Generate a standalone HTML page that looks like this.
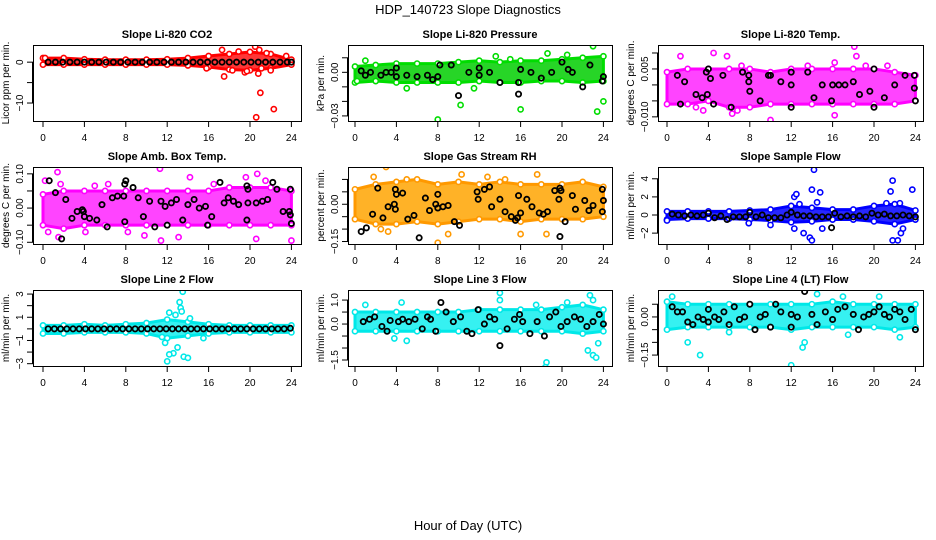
<!DOCTYPE html>
<html><head><meta charset="utf-8">
<style>
html,body{margin:0;padding:0;background:#fff;}
svg{display:block;font-family:"Liberation Sans",sans-serif;}
</style></head>
<body>
<svg id="chart" width="936" height="540" viewBox="0 0 936 540">
<text x="468" y="14" text-anchor="middle" font-size="13">HDP_140723  Slope Diagnostics</text>
<text x="468" y="530" text-anchor="middle" font-size="13">Hour of Day (UTC)</text>
</svg>
<script>
// ---- data ----
const xTicks = [0,4,8,12,16,20,24];
const envHours = [0,2,4,6,8,10,12,14,16,18,20,22,24];

const co2Lo = [-0.6,-0.6,-0.6,-0.6,-0.6,-0.6,-0.6,-0.8,-1.2,-1.8,-2,-1.5,-0.6];
const co2Hi = [1,1,0.7,0.6,0.6,0.6,0.7,1,1.5,2,2.5,2,0.6];
const co2Out = [[0.2,1],[17.3,3],[17.5,-3.5],[18.3,-2],[19.5,-2.5],[20.5,3.8],[20.6,-13.5],[20.8,-2.8],[21,-7.5],[21.1,-1.5],[22.3,-11.5],[22,-2],[19.7,-2.2],[15.8,-1.5],[23.5,1.5],[20.9,3],[21.6,2.2],[18.9,2.6]];
const co2Black = [[0.5,0],[1.2,0],[1.9,0],[2.6,0],[3.3,0],[4,0],[4.7,0],[5.4,0],[6.1,0],[6.8,0],[7.5,0],[8.2,0],[8.9,0],[9.6,0],[10.3,0],[11,0],[11.7,0],[12.4,0],[13.1,0],[13.8,0],[14.5,0],[15.2,0],[15.9,0],[16.6,0],[17.3,0],[18,0],[18.7,0],[19.4,0],[20.1,0],[20.8,0],[21.5,0],[22.2,0],[22.9,0],[23.6,0],[24,0]];
const co2Ticks = [-10,-5,0];
const co2Labels = [-10,0];

const presLo = [-0.007,-0.006,-0.007,-0.007,-0.007,-0.007,-0.006,-0.007,-0.007,-0.006,-0.006,-0.007,-0.006];
const presHi = [0.004,0.005,0.006,0.006,0.006,0.007,0.008,0.007,0.008,0.008,0.009,0.010,0.011];
const presOut = [[8,-0.0325],[10.2,-0.0225],[16,-0.0255],[23.4,-0.027],[24,-0.02],[23,0.018],[18.6,0.013],[5,-0.011],[0.2,-0.006],[1,0.008],[13.6,0.011],[15,0.009],[20.5,0.012],[11.5,-0.011]];
const presBlack = [[0.6,0.001],[1,-0.002],[1.5,0],[2.5,-0.002],[3,0],[3.5,0],[4,-0.003],[4,0.003],[5,-0.002],[6,-0.003],[7,-0.002],[7.5,-0.005],[8,-0.003],[8.2,0.005],[9.3,0.005],[10,-0.016],[11,0],[12,0.003],[12,-0.002],[13,0],[14,-0.007],[15.8,-0.007],[15.8,-0.015],[16,0.002],[17,0],[18,-0.004],[19,0],[20,0.007],[20.6,0.002],[21,0],[22,-0.01],[22.7,0.005],[23.9,-0.006],[24,-0.003]];
const presTicks = [-0.03,-0.02,-0.01,0.00,0.01];
const presLabels = [-0.03,0.00];

const tempLo = [-0.006,-0.006,-0.005,-0.007,-0.007,-0.006,-0.006,-0.006,-0.006,-0.006,-0.006,-0.006,-0.005];
const tempHi = [0.004,0.005,0.005,0.005,0.005,0.004,0.005,0.005,0.005,0.005,0.005,0.004,0.003];
const tempOut = [[1.3,0.009],[4.5,0.010],[5.8,0.009],[7.2,0.006],[10,-0.011],[13.6,0.006],[16.2,0.007],[18.1,0.012],[18.3,0.009],[16.2,-0.0095],[6.3,-0.009],[2.8,-0.007],[6.8,-0.008],[21.3,0.006],[19.2,0.006],[3.5,-0.008]];
const tempBlack = [[1,0.003],[1.3,-0.006],[1.7,0.001],[2.8,-0.003],[3.4,-0.004],[3.8,0.004],[4,0.005],[4.2,0.002],[3.9,-0.003],[4.5,-0.006],[5.4,0.003],[6.2,-0.007],[7.3,0.004],[7.9,0.001],[7.9,0.003],[8,-0.002],[9,-0.005],[9.8,0.003],[10,0.003],[11,0.001],[12,0],[12,-0.007],[12,0.004],[13.6,0.004],[14.2,-0.004],[15,0],[15.9,-0.005],[16,0],[16.6,0],[17.2,0],[18,0.001],[18.6,-0.003],[19.6,-0.002],[20,0.005],[20,-0.007],[21,-0.004],[22,0],[23,0.003],[23.9,0.003],[24,-0.005],[23.9,-0.001]];
const tempTicks = [-0.010,-0.005,0.000,0.005,0.010];
const tempLabels = [-0.010,0.005];

const ambLo = [-0.05,-0.06,-0.05,-0.05,-0.05,-0.05,-0.05,-0.05,-0.05,-0.05,-0.05,-0.05,-0.05];
const ambHi = [0.04,0.05,0.05,0.05,0.05,0.05,0.05,0.05,0.05,0.06,0.06,0.06,0.05];
const ambOut = [[0.2,0.08],[0.5,-0.07],[1.4,0.105],[1.5,-0.085],[1.7,0.07],[4.1,-0.07],[8.2,-0.07],[9.8,-0.08],[11.3,0.115],[11.4,-0.095],[13.1,-0.085],[14.2,0.09],[19.6,0.09],[20.7,0.1],[20.6,-0.09],[24,-0.095],[5,0.065],[16.5,0.07],[6.3,0.07],[21.5,0.08]];
const ambBlack = [[0.6,0.08],[1.2,0.045],[1.8,-0.09],[2.2,0.025],[2.8,-0.03],[3.3,-0.01],[3.8,-0.005],[3.9,-0.01],[4,-0.025],[4.5,-0.03],[5.2,-0.035],[5.7,0.01],[6.2,-0.055],[6.7,0.03],[7.2,0.035],[7.8,0.035],[7.9,0.07],[8,0.08],[7.9,-0.04],[8.7,0.06],[9.2,0.03],[9.7,-0.025],[10.3,0.02],[10.8,-0.055],[11.4,0.02],[11.8,0.005],[12,-0.05],[12.4,0.015],[12.9,0.025],[13.5,-0.035],[14,0.01],[14.6,0.025],[15.1,0],[15.7,0.005],[15.9,-0.05],[16.3,-0.025],[17.1,0.075],[17.5,0.015],[17.9,0.03],[18.4,0.02],[18.9,0.01],[19.7,0.065],[19.8,0.055],[19.8,0.015],[19.7,-0.035],[20.6,0.015],[21.2,0.02],[21.7,0.025],[22.2,0.075],[22.6,0.055],[23.2,-0.01],[23.8,-0.01],[23.9,-0.02],[24,-0.045],[23.9,0.055]];
const ambTicks = [-0.10,-0.05,0.00,0.05,0.10];
const ambLabels = [-0.10,0.00,0.10];

const rhLo = [-0.06,-0.08,-0.08,-0.07,-0.08,-0.07,-0.06,-0.06,-0.07,-0.06,-0.06,-0.06,-0.05];
const rhHi = [0.06,0.08,0.09,0.1,0.08,0.09,0.08,0.09,0.08,0.08,0.08,0.09,0.07];
const rhOut = [[3,0.15],[1.8,0.11],[8,-0.155],[9,-0.12],[16,-0.12],[17.6,0.12],[18.5,-0.12],[10.3,0.12],[5,0.1],[2.5,-0.1],[3.2,-0.11],[12.8,0.11],[14.5,0.1]];
const rhBlack = [[0.6,-0.11],[1.1,-0.095],[1.7,-0.04],[2.2,0.065],[2.7,-0.055],[3.2,-0.01],[3.8,0],[3.9,0.06],[4,0.04],[3.9,-0.02],[4.6,0.045],[5.1,-0.06],[5.7,-0.045],[6.2,-0.135],[6.8,0.025],[7.2,-0.025],[7.8,0],[8,0.04],[8,-0.015],[8.5,-0.01],[9,-0.005],[9.6,-0.07],[10.1,-0.085],[11.9,0.02],[11.8,0.05],[12.5,0.06],[13,0.07],[13.2,-0.01],[14,0.02],[14.5,-0.03],[15.1,-0.05],[15.5,-0.065],[15.7,-0.055],[16,-0.035],[15.8,0.035],[16.6,0.02],[17.1,-0.01],[17.8,-0.035],[18.2,-0.04],[18.6,-0.03],[19.3,0.055],[19.8,0.065],[19.9,0.055],[19.8,-0.13],[19.7,0.02],[20.3,-0.07],[21,0.035],[21.3,-0.02],[22.2,0.015],[22.6,-0.025],[23,-0.005],[23.9,0.06],[24,0.015],[23.9,-0.03]];
const rhTicks = [-0.15,-0.10,-0.05,0.00,0.05,0.10];
const rhLabels = [-0.15,0.00];

const sfLo = [-0.5,-0.4,-0.4,-0.4,-0.5,-0.6,-0.8,-0.7,-0.5,-0.5,-0.7,-1,-0.5];
const sfHi = [0.4,0.4,0.4,0.4,0.5,0.6,1,0.8,0.6,0.6,1,1.2,0.5];
const sfOut = [[12.3,2],[12.5,2.3],[14,2.8],[14.8,2.5],[13.8,-2.5],[14,-2.8],[14.2,5],[21.8,3.8],[21.6,2.6],[23.7,2.8],[21.8,-2.8],[22.3,-2.8],[22.6,-2],[12.3,-1.5],[13.2,-2],[15,-1.5],[21.2,1.3],[22.5,1.3],[12.8,1.2],[14.5,1.4],[22.8,-1.5],[0,-0.6],[7.9,-0.9],[10,-1.1]];
const sfBlack = [[0.5,0.1],[1.1,0],[1.7,-0.1],[2.3,0],[2.9,-0.1],[3.5,0],[4,0.2],[4.6,-0.3],[5.2,-0.1],[5.8,-0.5],[6.4,-0.2],[7,-0.2],[7.6,-0.2],[8,0.3],[8.6,-0.2],[9.2,0],[9.8,-0.3],[10.4,-0.3],[11,-0.3],[11.6,0],[12,0.3],[12.6,0],[13.2,-0.1],[13.8,-0.1],[14.4,-0.2],[15,-0.2],[15.6,-0.2],[15.9,-1.4],[16.2,0.2],[16.8,-0.2],[17.4,-0.1],[18,-0.2],[18.6,-0.1],[19.2,-0.2],[19.8,0.2],[20.4,0],[21,0.1],[21.6,-0.1],[22.2,-0.1],[22.8,0],[23.4,-0.1],[24,-0.2]];
const sfTicks = [-2,0,2,4];
const sfLabels = [-2,0,2,4];

const l2Lo = [-0.4,-0.4,-0.3,-0.3,-0.3,-0.4,-0.8,-0.6,-0.4,-0.3,-0.3,-0.3,-0.3];
const l2Hi = [0.3,0.3,0.4,0.3,0.4,0.5,0.8,0.6,0.4,0.3,0.3,0.3,0.3];
const l2Out = [[13.5,3.2],[13.2,2.3],[13.3,1.8],[12.2,1.4],[11.8,-1.2],[12,-2.8],[12.6,-2.1],[12.2,-2.2],[13.6,-2.4],[14,-2.5],[13,-1.6],[15.5,-0.8],[14.2,0.9],[12.8,1.2],[13.4,1.5],[11.5,-0.7]];
const l2Black = [[0.5,0],[1.1,0],[1.7,0],[2.3,0],[2.9,0],[3.5,0],[4.1,0],[4.7,0],[5.3,0],[5.9,0],[6.5,0],[7.1,0],[7.7,0],[8.3,0],[8.9,0],[9.5,0],[10.1,0],[10.7,0],[11.3,0],[11.9,0],[12.5,0],[13.1,0],[13.7,0],[14.3,0],[14.9,0],[15.5,0],[16.1,0],[16.7,0],[17.3,0],[17.9,0],[18.5,0],[19.1,0],[19.7,0],[20.3,0],[20.9,0],[21.5,0],[22.1,0],[22.7,0],[23.3,0],[23.9,0.05]];
const l2Ticks = [-3,-2,-1,0,1,2,3];
const l2Labels = [-3,-1,1,3];

const l3Lo = [-0.3,-0.3,-0.3,-0.3,-0.3,-0.3,-0.3,-0.3,-0.3,-0.3,-0.3,-0.4,-0.3];
const l3Hi = [0.5,0.5,0.5,0.5,0.5,0.5,0.6,0.6,0.6,0.6,0.7,0.8,0.6];
const l3Out = [[14,1.3],[14,1.0],[18.5,-1.6],[18.4,-1.8],[22.5,-1.1],[23,-1.3],[23.3,-1.4],[1,0.8],[3.8,-0.6],[5,-0.7],[22.7,1.2],[23,1.0],[4.5,0.9],[17.5,0.8],[20.5,0.9],[23.5,-0.8]];
const l3Black = [[0.8,0.1],[1.4,0.2],[1.9,0.3],[2.6,-0.1],[3.1,-0.3],[3.4,0.15],[4.2,0.1],[4.6,0.2],[5.2,0.1],[5.8,0.2],[6.5,-0.2],[7,0.3],[7.3,0.2],[7.8,-0.3],[8.3,0.9],[8.8,0.5],[9.5,0.1],[10.2,0.3],[10.8,-0.3],[11.3,-0.4],[11.9,0.6],[12.5,0],[13,0.3],[13.5,0.2],[14,-0.9],[14.7,-0.2],[15.4,0.2],[15.9,0.4],[16.2,0.1],[16.9,-0.4],[17.6,0.1],[18.3,-0.5],[18.8,0.3],[19.4,0.5],[19.9,-0.1],[20.5,0.1],[21.2,0.3],[21.8,0.2],[22.4,-0.1],[23,0.1],[23.6,0.4],[24,0]];
const l3Ticks = [-1.5,-1.0,-0.5,0.0,0.5,1.0];
const l3Labels = [-1.5,0.0,1.0];

const l4Lo = [-0.05,-0.04,-0.04,-0.04,-0.04,-0.04,-0.05,-0.04,-0.04,-0.04,-0.04,-0.05,-0.04];
const l4Hi = [0.06,0.05,0.05,0.05,0.05,0.05,0.05,0.05,0.06,0.05,0.05,0.05,0.05];
const l4Out = [[12,-0.19],[13.3,-0.1],[13.1,-0.12],[3.2,-0.15],[2,-0.1],[17.5,-0.07],[0.5,0.08],[14.5,0.09],[17,0.08],[20.5,0.08],[22.5,-0.08],[6,-0.06]];
const l4Black = [[0.5,0.04],[1,0.02],[1.5,0.02],[2,-0.02],[2.5,-0.03],[3,0],[3.5,-0.01],[4,0.03],[4,-0.02],[4.6,0],[5,-0.01],[5.5,0.02],[6,-0.03],[6.5,0.04],[7,-0.01],[7.5,0],[8,0.05],[8.5,-0.05],[9,0],[9.5,0.01],[10,-0.04],[10.5,0.05],[11,0.02],[12,0.01],[12,-0.04],[12.6,0],[13.3,0.1],[14,0.01],[14.5,-0.03],[15.3,0.02],[16,-0.01],[16.5,0.03],[17.2,0.04],[18,0.01],[18.5,-0.05],[19,0],[19.5,0.01],[20,0.02],[20.5,0.04],[21,0.01],[21.5,0],[22,0.03],[22.5,0.02],[23,-0.01],[23.6,0.03],[24,-0.05]];
const l4Ticks = [-0.15,-0.10,-0.05,0.00,0.05];
const l4Labels = [-0.15,0.00];

// ---- layout config (not data) ----
const colX0 = [43,355,667], colBox = [[33,301],[348,612],[658,923]];
const rowBox = [[45,121],[167,244],[290,366]];
const pxPerH = 10.35;
const panels = [
 {r:0,c:0,title:'Slope Li-820 CO2',ylab:'Licor ppm per min.',ymin:-14.4,ymax:4.2,lo:co2Lo,hi:co2Hi,out:co2Out,blk:co2Black,ticks:co2Ticks,labels:co2Labels,dec:0,col:'#ff0000',fill:'#ff2020',name:'co2'},
 {r:0,c:1,title:'Slope Li-820 Pressure',ylab:'kPa per min.',ymin:-0.0335,ymax:0.0188,lo:presLo,hi:presHi,out:presOut,blk:presBlack,ticks:presTicks,labels:presLabels,dec:2,col:'#00dd00',fill:'#10d010',name:'pressure'},
 {r:0,c:2,title:'Slope Li-820 Temp.',ylab:'degrees C per min.',ymin:-0.0113,ymax:0.0125,lo:tempLo,hi:tempHi,out:tempOut,blk:tempBlack,ticks:tempTicks,labels:tempLabels,dec:3,col:'#ff00ff',fill:'#ff30ff',name:'li820-temp'},
 {r:1,c:0,title:'Slope Amb. Box Temp.',ylab:'degrees C per min.',ymin:-0.105,ymax:0.12,lo:ambLo,hi:ambHi,out:ambOut,blk:ambBlack,ticks:ambTicks,labels:ambLabels,dec:2,col:'#ff00ff',fill:'#ff30ff',name:'amb-box-temp'},
 {r:1,c:1,title:'Slope Gas Stream RH',ylab:'percent per min.',ymin:-0.16,ymax:0.15,lo:rhLo,hi:rhHi,out:rhOut,blk:rhBlack,ticks:rhTicks,labels:rhLabels,dec:2,col:'#ff9900',fill:'#ffaa10',name:'gas-stream-rh'},
 {r:1,c:2,title:'Slope Sample Flow',ylab:'ml/min per min.',ymin:-3.2,ymax:5.3,lo:sfLo,hi:sfHi,out:sfOut,blk:sfBlack,ticks:sfTicks,labels:sfLabels,dec:0,col:'#0000ff',fill:'#1010ff',name:'sample-flow'},
 {r:2,c:0,title:'Slope Line 2 Flow',ylab:'ml/min per min.',ymin:-3.2,ymax:3.35,lo:l2Lo,hi:l2Hi,out:l2Out,blk:l2Black,ticks:l2Ticks,labels:l2Labels,dec:0,col:'#00e8e8',fill:'#20f0f0',name:'line2-flow'},
 {r:2,c:1,title:'Slope Line 3 Flow',ylab:'ml/min per min.',ymin:-1.75,ymax:1.42,lo:l3Lo,hi:l3Hi,out:l3Out,blk:l3Black,ticks:l3Ticks,labels:l3Labels,dec:1,col:'#00e8e8',fill:'#20f0f0',name:'line3-flow'},
 {r:2,c:2,title:'Slope Line 4 (LT) Flow',ylab:'ml/min per min.',ymin:-0.193,ymax:0.106,lo:l4Lo,hi:l4Hi,out:l4Out,blk:l4Black,ticks:l4Ticks,labels:l4Labels,dec:2,col:'#00e8e8',fill:'#20f0f0',name:'line4-flow'}
];
const NS='http://www.w3.org/2000/svg';
const svg=document.getElementById('chart');
function mk(tag,parent,attrs){const e=document.createElementNS(NS,tag);for(const k in attrs)e.setAttribute(k,attrs[k]);parent.appendChild(e);return e;}
panels.forEach(p=>{
  const [bx0,bx1]=colBox[p.c],[by0,by1]=rowBox[p.r];
  const xs=h=>colX0[p.c]+h*pxPerH;
  const ys=v=>by1-(v-p.ymin)/(p.ymax-p.ymin)*(by1-by0);
  const g=mk('g',svg,{});
  
  
  const cid='clip'+p.name;
  const cp=mk('clipPath',g,{id:cid});mk('rect',cp,{x:bx0,y:by0,width:bx1-bx0,height:by1-by0});
  const t=mk('text',g,{x:(bx0+bx1)/2,y:by0-7,'text-anchor':'middle','font-size':11,'font-weight':'bold'});t.textContent=p.title;
  
  
  const dg=mk('g',g,{'clip-path':'url(#'+cid+')'});
  let pts=envHours.map((h,i)=>xs(h)+','+ys(p.hi[i]));
  pts=pts.concat(envHours.map((h,i)=>xs(h)+','+ys(p.lo[i])).reverse());
  const band=mk('polygon',dg,{points:pts.join(' '),fill:p.fill,'fill-opacity':0.9,stroke:p.col,'stroke-width':3,'stroke-linejoin':'round'});
  
  
  envHours.forEach((h,i)=>{
    [p.lo[i],p.hi[i]].forEach(v=>{
      const c=mk('circle',dg,{cx:xs(h),cy:ys(v),r:2.6,fill:'#fff',stroke:p.col,'stroke-width':1.6});
      
      
    });
  });
  p.out.forEach(d=>{
    const c=mk('circle',dg,{cx:xs(d[0]),cy:ys(d[1]),r:2.6,fill:'#fff',stroke:p.col,'stroke-width':1.6});
    
    
  });
  p.blk.forEach(d=>{
    const c=mk('circle',dg,{cx:xs(d[0]),cy:ys(d[1]),r:2.6,fill:'none',stroke:'#000','stroke-width':1.8});
    
    
  });
  const box=mk('rect',g,{x:bx0+0.5,y:by0+0.5,width:bx1-bx0,height:by1-by0,fill:'none',stroke:'#000','stroke-width':1});
  
  
  mk('line',g,{x1:xs(0),x2:xs(24),y1:by1+0.5,y2:by1+0.5,stroke:'#000'});
  xTicks.forEach(h=>{
    mk('line',g,{x1:xs(h),x2:xs(h),y1:by1,y2:by1+6,stroke:'#000'});
    const tl=mk('text',g,{x:xs(h),y:by1+20,'text-anchor':'middle','font-size':10});tl.textContent=h;
    
    
  });
  const yl=p.ticks.map(ys);
  mk('line',g,{x1:bx0-0.5,x2:bx0-0.5,y1:Math.min(...yl),y2:Math.max(...yl),stroke:'#000'});
  p.ticks.forEach(v=>{
    const y=ys(v);
    mk('line',g,{x1:bx0-6,x2:bx0,y1:y,y2:y,stroke:'#000'});
  });
  p.labels.forEach(v=>{
    const y=ys(v);
    const tl=mk('text',g,{x:bx0-10,y:y,'text-anchor':'middle','font-size':10,transform:'rotate(-90 '+(bx0-10)+' '+y+')'});
    tl.textContent=(v<0?'\u2212':'')+Math.abs(v).toFixed(p.dec);
    
    
  });
  const ym=(by0+by1)/2;
  const yt=mk('text',g,{x:bx0-24,y:ym,'text-anchor':'middle','font-size':10,transform:'rotate(-90 '+(bx0-24)+' '+ym+')'});
  yt.textContent=p.ylab;
  
  
});
</script>
</body></html>
